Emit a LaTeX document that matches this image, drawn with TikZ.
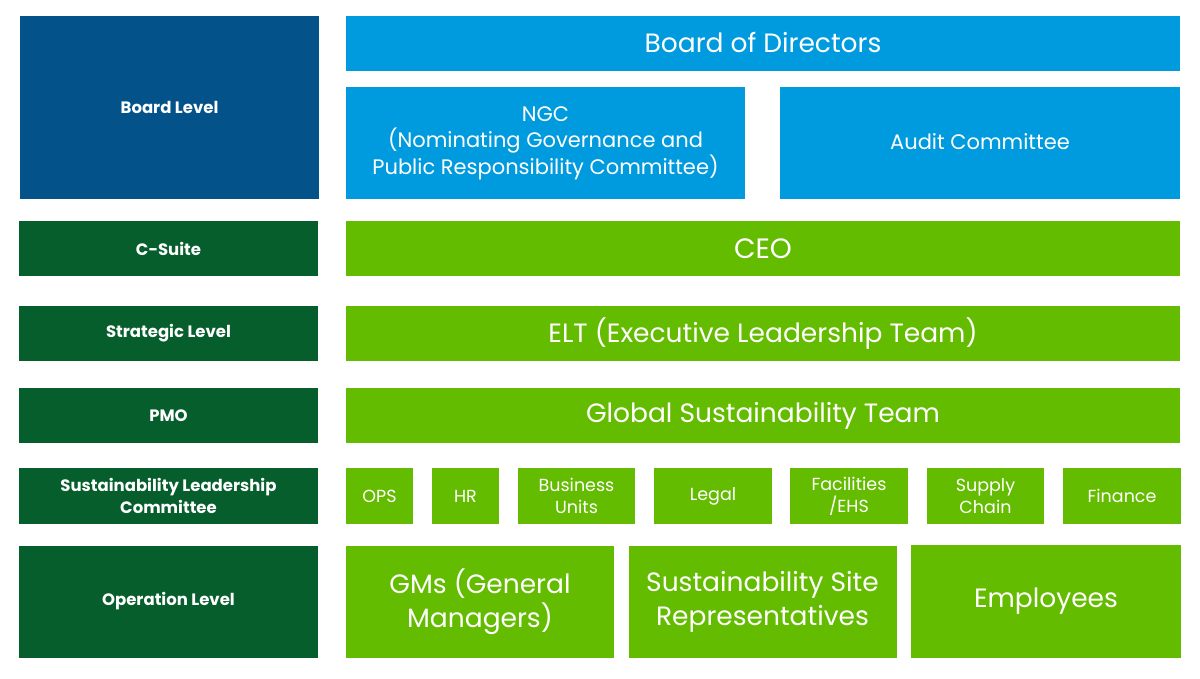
\documentclass[tikz,border=0pt]{standalone}
\usepackage{fontspec}
\setmainfont{Poppins}
\definecolor{dblue}{RGB}{3,82,137}
\definecolor{lblue}{RGB}{0,155,222}
\definecolor{dgreen}{RGB}{6,94,44}
\definecolor{lgreen}{RGB}{100,188,0}
\begin{document}
\begin{tikzpicture}[x=1pt,y=-1pt,
  box/.style={draw=none,inner sep=0pt,align=center,text=white,anchor=center},
  lvl/.style={box,fill=#1,font=\fontsize{16.5}{22}\selectfont\bfseries},
  mainb/.style={box,fill=#1,font=\fontsize{26.5}{30}\selectfont},
  midb/.style={box,fill=lblue,font=\fontsize{21}{26.5}\selectfont},
  smallb/.style={box,fill=lgreen,font=\fontsize{17.5}{22}\selectfont},
  bigb/.style={box,fill=lgreen,font=\fontsize{26.5}{34}\selectfont}]
\useasboundingbox[fill=white] (0,0) rectangle (1200,679);
% left column
\node[lvl=dblue,minimum width=299,minimum height=183] (board) at (169.5,107.5) {Board Level};
\node[lvl=dgreen,minimum width=299,minimum height=55] (csuite) at (168.5,248.5) {C-Suite};
\node[lvl=dgreen,minimum width=299,minimum height=55] (strat) at (168.5,333.5) {Strategic Level};
\node[lvl=dgreen,minimum width=299,minimum height=55] (pmo) at (168.5,415.5) {PMO};
\node[lvl=dgreen,minimum width=299,minimum height=56] (slc) at (168.5,496) {Sustainability Leadership\\Committee};
\node[lvl=dgreen,minimum width=299,minimum height=112] (oper) at (168.5,601.5) {Operation Level};
% right column
\node[mainb=lblue,minimum width=834,minimum height=55] (bod) at (763,43.5) {\raisebox{1.5pt}{Board of Directors}};
\node[midb,minimum width=399,minimum height=112] (ngc) at (545.5,143) {NGC\\(Nominating Governance and\\Public Responsibility Committee)};
\node[midb,minimum width=400,minimum height=112] (audit) at (980,143) {\raisebox{2pt}{Audit Committee}};
\node[mainb=lgreen,minimum width=834,minimum height=55] (ceo) at (763,248.5) {\fontsize{28}{30}\selectfont CEO};
\node[mainb=lgreen,minimum width=834,minimum height=55] (elt) at (763,333.5) {ELT (Executive Leadership Team)};
\node[mainb=lgreen,minimum width=834,minimum height=55] (gst) at (763,415.5) {Global Sustainability Team};
% committee members
\node[smallb,minimum width=67,minimum height=56] (ops) at (379.5,496) {OPS};
\node[smallb,minimum width=67,minimum height=56] (hr) at (465.5,496) {HR};
\node[smallb,minimum width=117,minimum height=56] (bu) at (576.5,496) {Business\\Units};
\node[smallb,minimum width=118,minimum height=56] (legal) at (713,496) {Legal};
\node[smallb,minimum width=118,minimum height=56] (fac) at (849,496) {Facilities\\/EHS};
\node[smallb,minimum width=117,minimum height=56] (supply) at (985.5,496) {Supply\\Chain};
\node[smallb,minimum width=118,minimum height=56] (fin) at (1122,496) {Finance};
% operation level
\node[bigb,minimum width=268,minimum height=112] (gms) at (480,602) {GMs (General\\Managers)};
\node[bigb,minimum width=268,minimum height=112] (ssr) at (762.5,602) {Sustainability Site\\Representatives};
\node[bigb,minimum width=270,minimum height=113] (emp) at (1046,601.5) {Employees};
\end{tikzpicture}
\end{document}
